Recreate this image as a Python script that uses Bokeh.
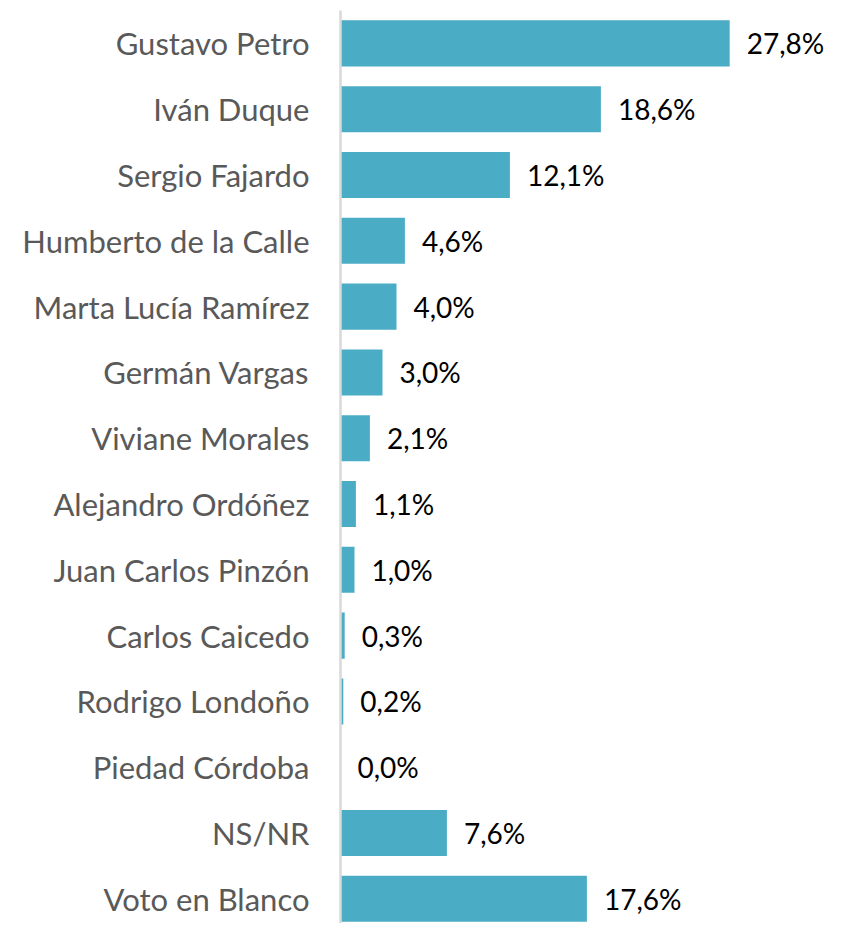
from bokeh.plotting import figure
from bokeh.models import Range1d, ColumnDataSource, FixedTicker
from bokeh.core.properties import value
from bokeh.embed import file_html
from bokeh.resources import INLINE

candidates = ["Gustavo Petro", "Iván Duque", "Sergio Fajardo", "Humberto de la Calle",
              "Marta Lucía Ramírez", "Germán Vargas", "Viviane Morales", "Alejandro Ordóñez",
              "Juan Carlos Pinzón", "Carlos Caicedo", "Rodrigo Londoño", "Piedad Córdoba",
              "NS/NR", "Voto en Blanco"]
percentages = [27.8, 18.6, 12.1, 4.6, 4.0, 3.0, 2.1, 1.1, 1.0, 0.3, 0.2, 0.0, 7.6, 17.6]
value_labels = ["27,8%", "18,6%", "12,1%", "4,6%", "4,0%", "3,0%", "2,1%", "1,1%",
                "1,0%", "0,3%", "0,2%", "0,0%", "7,6%", "17,6%"]

FONT = "Lato"

positions = list(range(len(candidates)))
src = ColumnDataSource(dict(pos=positions, cat=candidates, val=percentages, lab=value_labels))

p = figure(width=830, height=923, output_backend="svg", toolbar_location=None,
           y_range=Range1d(13.375, -0.5),
           x_range=Range1d(0, 35.0),
           min_border_left=340, min_border_right=0, min_border_top=10, min_border_bottom=0)

p.hbar(y="pos", right="val", left=0, height=0.7, source=src,
       fill_color="#4BACC6", line_color=None)
p.text(x="val", y="pos", text="lab", source=src, x_offset=17,
       text_baseline="middle", text_align="left", text_color="#000000",
       text_font=value(FONT), text_font_size="28px")

p.xaxis.visible = False
p.grid.visible = False
p.outline_line_color = None
p.background_fill_color = "white"
p.border_fill_color = "white"

ya = p.yaxis[0]
ya.ticker = FixedTicker(ticks=positions)
ya.major_label_overrides = {i: c for i, c in zip(positions, candidates)}
ya.axis_line_color = "#D9D9D9"
ya.axis_line_width = 2.5
ya.major_tick_line_color = None
ya.minor_tick_line_color = None
ya.major_label_standoff = 25
ya.major_label_text_font = FONT
ya.major_label_text_font_size = "31px"
ya.major_label_text_color = "#595959"

open("out.html", "w").write(file_html(p, INLINE))
